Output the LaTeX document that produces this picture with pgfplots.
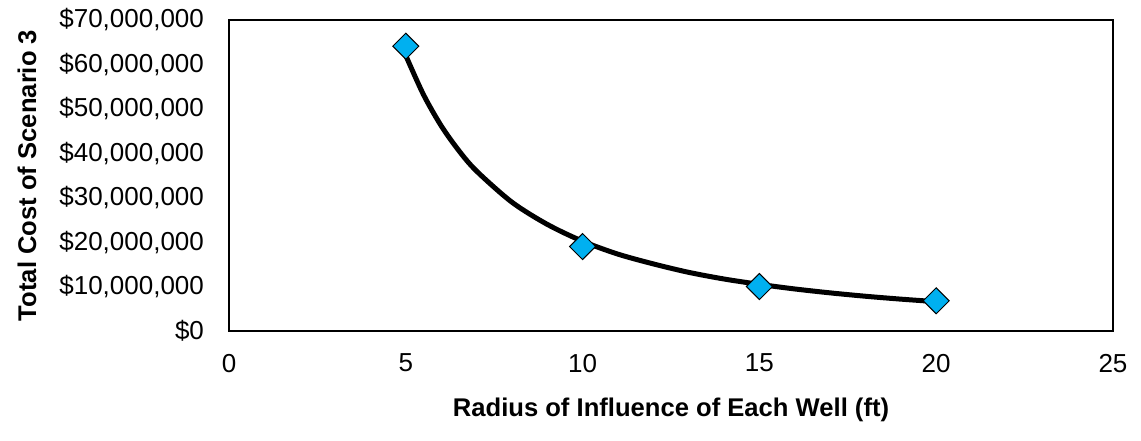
\documentclass[border=0pt]{standalone}
\usepackage{pgfplots}
\pgfplotsset{compat=1.18}
\usepackage{fontspec}
\setmainfont{Liberation Sans}
\definecolor{mkblue}{RGB}{0,176,240}
\begin{document}
\begin{tikzpicture}
\begin{axis}[
  scale only axis,
  width=442pt, height=155.5pt,
  xmin=0, xmax=25, ymin=0, ymax=70,
  xtick={0,5,10,15,20,25},
  ytick={0,10,20,30,40,50,60,70},
  yticklabels={\$0,{\$10,000,000},{\$20,000,000},{\$30,000,000},{\$40,000,000},{\$50,000,000},{\$60,000,000},{\$70,000,000}},
  major tick length=0pt,
  axis line style={line width=0.75pt},
  tick label style={font=\fontsize{13}{15}\selectfont},
  /pgf/number format/assume math mode=true,
  xticklabel style={yshift=-8pt},
  yticklabel style={xshift=-9pt},
  xlabel={\textbf{Radius of Influence of Each Well (ft)}},
  ylabel={\textbf{Total Cost of Scenario 3}},
  label style={font=\fontsize{12.8}{15}\selectfont},
  xlabel style={at={(axis description cs:0.5,0)}, anchor=center, yshift=-39.5pt},
  ylabel style={at={(axis description cs:0,0.5)}, anchor=center, yshift=101pt},
  clip=false,
]
\addplot[only marks, mark=square*, mark size=4.6pt,
  mark options={rotate=45, fill=mkblue, draw=black, line width=0.5pt}]
  coordinates {(5,64.1) (10,19.0) (15,10.0) (20,6.8)};
\addplot[black, line width=2.5pt, line cap=round, smooth, no markers]
  coordinates {(5,62.0) (5.5,53.2) (6,46.2) (6.5,40.6) (7,36.0) (8,29.0) (9,24.0) (10,20.2) (11,17.3) (12,15.1) (13,13.2) (14,11.7) (15,10.5) (16,9.46) (17,8.58) (18,7.82) (19,7.17) (20,6.6)};
\end{axis}
\path (current axis.south west) ++(-114.5pt,-55pt);
\path (current axis.north east) ++(14pt,10pt);
\end{tikzpicture}
\end{document}
